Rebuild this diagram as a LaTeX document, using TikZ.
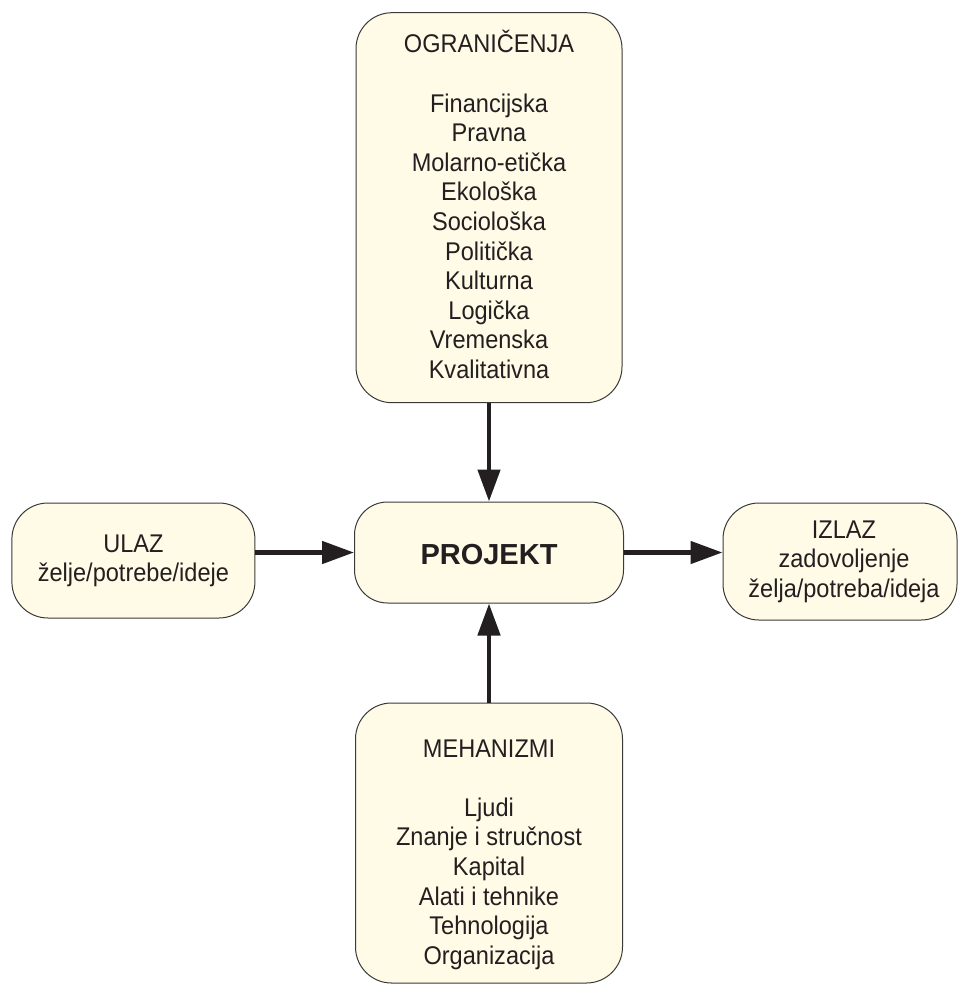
\documentclass[tikz,border=0pt]{standalone}
\usepackage{fontspec}
\setmainfont{Liberation Sans}[FakeStretch=0.92]
\newfontfamily\titlefont{Liberation Sans}
\usetikzlibrary{arrows.meta}
\definecolor{ink}{HTML}{231F20}
\definecolor{cream}{HTML}{FFFBE7}
\definecolor{rim}{HTML}{3A3A3A}
% centred lines with a fixed baseline distance; the box's baseline is the first line
\newcommand\stack[1]{\vtop{\lineskiplimit=-\maxdimen\baselineskip=29.6pt\lineskip=0pt\halign{\hfil##\hfil\cr#1\crcr}}}
\begin{document}
\begin{tikzpicture}[x=1pt,y=-1pt,
  panel/.style={draw=rim, line width=1pt, fill=cream, rounded corners=36pt, inner sep=0pt},
  words/.style={anchor=base, inner sep=0pt, text=ink, font=\fontsize{25.6}{29.6}\selectfont},
  flow/.style={draw=ink, line width=4.7pt, -{Triangle[length=32pt,width=22pt]}}]
\useasboundingbox (0,0) rectangle (958,984);

% boxes
\node[panel, minimum width=266pt, minimum height=390pt] (ogr) at (489,207.7) {};
\node[panel, rounded corners=33pt, minimum width=269pt, minimum height=101pt] (proj) at (489,552.5) {};
\node[panel, minimum width=267pt, minimum height=280pt] (meh) at (489,843) {};
\node[panel, minimum width=243pt, minimum height=115pt] (ulaz) at (133.4,560.5) {};
\node[panel, minimum width=234pt, minimum height=117pt] (izlaz) at (840,561.5) {};

% texts
\node[words] (ogrtxt) at (489,53) {\stack{OGRANIČENJA\cr
\cr
Financijska\cr
Pravna\cr
Molarno-etička\cr
Ekološka\cr
Sociološka\cr
Politička\cr
Kulturna\cr
Logička\cr
Vremenska\cr
Kvalitativna}};
\node[words, font=\titlefont\bfseries\fontsize{29}{30}\selectfont] (projtxt) at (489,564.3) {PROJEKT};
\node[words] (mehtxt) at (489,757) {\stack{MEHANIZMI\cr
\cr
Ljudi\cr
Znanje i stručnost\cr
Kapital\cr
Alati i tehnike\cr
Tehnologija\cr
Organizacija}};
\node[words] (ulaztxt) at (133.4,552) {\stack{ULAZ\cr
želje/potrebe/ideje}};
\node[words] (izlaztxt) at (844,538) {\stack{IZLAZ\cr
zadovoljenje\cr
želja/potreba/ideja}};

% connectors
\draw[flow] (ogr) -- (proj);
\draw[flow] (meh) -- (proj);
\draw[flow] (ulaz.east |- proj.west) -- (proj.west);
\draw[flow] (proj.east) -- (izlaz.west |- proj.east);
\end{tikzpicture}
\end{document}
